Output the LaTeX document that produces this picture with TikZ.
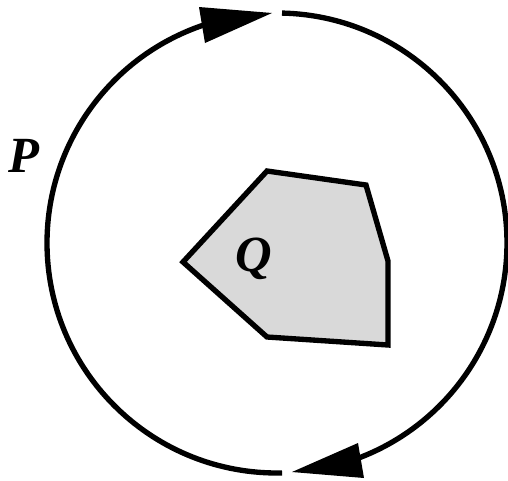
\documentclass[tikz,border=0pt]{standalone}
\usepackage{fontspec}
\setmainfont{Liberation Serif}
\begin{document}
\begin{tikzpicture}[x=0.75pt,y=-0.75pt,
  ring/.style={line width=4pt,line cap=butt},
  tip/.style={fill=black,draw=none},
  region/.style={fill={rgb,255:red,217;green,217;blue,217},draw=black,line width=4pt,line join=miter},
  lab/.style={font=\fontsize{38}{38}\selectfont\bfseries\itshape,inner sep=0pt,anchor=base}]
\useasboundingbox (0,0) rectangle (508,480);
\coordinate (c) at (277,243);
% arcs
\draw[ring] (c) ++(-88.75:230) arc[start angle=-88.75,end angle=72,radius=230];
\draw[ring] (c) ++(88.75:230) arc[start angle=88.75,end angle=254,radius=230];
% arrow heads
\fill[tip] (199,7) -- (272,13) -- (205,43) -- cycle;
\fill[tip] (358,443) -- (292,472) -- (364,478) -- cycle;
% region Q
\draw[region] (183,262) -- (267,171) -- (366,185) -- (388,261) -- (388,345) -- (267,337) -- cycle;
\node[lab] (P) at (24,172) {P};
\node[lab] (Q) at (254,271) {Q};
\end{tikzpicture}
\end{document}
